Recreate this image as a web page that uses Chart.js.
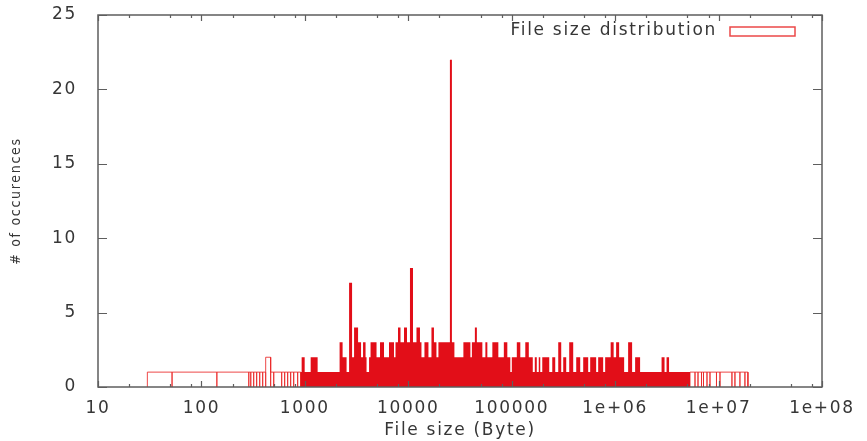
<!DOCTYPE html>
<html><head><meta charset="utf-8">
<script src="https://cdn.jsdelivr.net/npm/chart.js@4.4.1/dist/chart.umd.min.js"></script>
<style>html,body{margin:0;padding:0;background:#fff;}#wrap{width:867px;height:441px;}</style>
</head><body><div id="wrap"><canvas id="c" width="867" height="441"></canvas></div>
<script>
// ---- data (file size in bytes; each bin spans binEdges[i]..binEdges[i+1]) ----
const seriesLabel = 'File size distribution';
const binEdges = [
  30, 52, 141, 287, 300, 320, 342, 366, 391, 418, 467, 500, 597, 638, 682, 729, 780, 852, 911,
  931, 996, 1138, 1329, 2167, 2317, 2532, 2677, 2861, 2991, 3270, 3494, 3653, 3863, 3950, 4176, 4317,
  4932, 5331, 5826, 6513, 7278, 7523, 7954, 8410, 9090, 9716, 10380, 11100, 12000, 12970, 13410,
  14330, 15670, 16750, 17710, 18720, 19560, 25260, 26410, 27920, 34100, 39850, 41200, 44040, 46040,
  52020, 55630, 58140, 64980, 74250, 83900, 90690, 96940, 100200, 112000, 121100, 135300, 146300,
  159800, 167100, 174700, 182600, 188800, 197400, 230600, 246600, 263500, 281700, 301100, 314800,
  336500, 359700, 393200, 420400, 459500, 491100, 548900, 573800, 655500, 685300, 765900, 800700,
  905000, 967200, 1022000, 1093000, 1222000, 1335000, 1459000, 1560000, 1743000, 2811000, 3004000,
  3141000, 3321000, 5296000,
  5918000, 6327000, 6838000, 7149000, 7727000, 8260000, 9543000, 10320000, 13470000, 14400000,
  16090000, 17980000, 19220000
];
const counts = [
  1, 1, 1, 1, 1, 1, 1, 1, 1, 2, 1, 1, 1, 1, 1, 1, 1, 1,
  1, 2, 1, 2, 1, 3, 2, 1, 7, 2, 4, 3, 2, 3, 2, 1, 2, 3, 2, 3, 2, 3, 2, 3, 4, 3, 4, 3, 8, 3, 4, 3,
  2, 3, 2, 4, 3, 2, 3, 22, 3, 2, 3, 2, 3, 4, 3, 2, 3, 2, 3, 2, 3, 2, 1, 2, 3, 2, 3, 2, 1, 2, 1, 2,
  1, 2, 1, 2, 1, 3, 1, 2, 1, 3, 1, 2, 1, 2, 1, 2, 1, 2, 1, 2, 3, 2, 3, 2, 1, 3, 1, 2, 1, 2, 1, 2, 1,
  1, 1, 1, 1, 1, 1, 1, 1, 1, 1, 1, 1, 1
];
const denseFrom = 911, denseTo = 5296000;   // range where boxes are packed solid
const xTickValues = [10, 100, 1000, 10000, 100000, 1e6, 1e7, 1e8];
const xTickLabels = ['10', '100', '1000', '10000', '100000', '1e+06', '1e+07', '1e+08'];
const xMinorSteps = [2, 5, 8];
const yTickValues = [0, 5, 10, 15, 20, 25];

// ---- build marks from the bins ----
const isDense = (lo, hi) => lo >= denseFrom && hi <= denseTo;
function outlineBoxes(keep) {            // open boxes, each drawn down to 0
  const pts = []; let last = null;
  for (let i = 0; i < counts.length; i++) {
    const lo = binEdges[i], hi = binEdges[i + 1], c = counts[i];
    if (!keep(lo, hi) || c <= 0) continue;
    if (last !== null && last !== lo) pts.push({x: last, y: null});
    pts.push({x: lo, y: 0}, {x: lo, y: c}, {x: hi, y: c}, {x: hi, y: 0});
    last = hi;
  }
  return pts;
}
function steppedBins(keep) {             // solid region as a stepped profile
  const pts = []; let lastHi = null, lastC = 0;
  for (let i = 0; i < counts.length; i++) {
    const lo = binEdges[i], hi = binEdges[i + 1];
    if (!keep(lo, hi)) continue;
    pts.push({x: lo, y: counts[i]}); lastHi = hi; lastC = counts[i];
  }
  if (lastHi !== null) pts.push({x: lastHi, y: lastC});
  return pts;
}

const xAllTicks = [];
xTickValues.forEach((v, i) => {
  xAllTicks.push(v);
  if (i < xTickValues.length - 1) xMinorSteps.forEach(m => xAllTicks.push(v * m));
});
const isMajor = v => xTickValues.some(t => Math.abs(v - t) / t < 1e-9);
const labelFor = v => { const i = xTickValues.findIndex(t => Math.abs(v - t) / t < 1e-9); return i >= 0 ? xTickLabels[i] : ''; };

const FONT = 'DejaVu Sans';
const AXIS = '#5e5e5e';
const TEXT = '#363636';
const SPACING = '1.7px';

const spacingPlugin = {
  id: 'spacing',
  beforeLayout(chart) { chart.ctx.letterSpacing = SPACING; },
  beforeDraw(chart) { chart.ctx.letterSpacing = SPACING; }
};

const framePlugin = {
  id: 'frame',
  afterDatasetsDraw(chart) {
    const {ctx, chartArea: a, scales: {x, y}} = chart;
    ctx.save();
    ctx.strokeStyle = AXIS; ctx.lineWidth = 1.5;
    ctx.strokeRect(a.left, a.top, a.right - a.left, a.bottom - a.top);
    ctx.lineWidth = 1.2;
    ctx.beginPath();
    xAllTicks.forEach(v => {
      const px = Math.round(x.getPixelForValue(v)) + 0.5;
      const len = isMajor(v) ? 6 : 3;
      ctx.moveTo(px, a.bottom); ctx.lineTo(px, a.bottom - len);
      ctx.moveTo(px, a.top); ctx.lineTo(px, a.top + len);
    });
    yTickValues.forEach(v => {
      const py = Math.round(y.getPixelForValue(v)) + 0.5;
      ctx.moveTo(a.left, py); ctx.lineTo(a.left + 9, py);
      ctx.moveTo(a.right, py); ctx.lineTo(a.right - 9, py);
    });
    ctx.stroke();
    // key (gnuplot style: text, then sample box)
    ctx.font = '17px "' + FONT + '"';
    ctx.fillStyle = TEXT; ctx.textAlign = 'right'; ctx.textBaseline = 'middle';
    ctx.fillText(chart.data.datasets[0].label, a.right - 105, a.top + 16);
    ctx.strokeStyle = 'rgba(232,40,40,0.85)'; ctx.lineWidth = 1.5;
    ctx.strokeRect(a.right - 92, a.top + 12, 65, 9);
    ctx.restore();
  }
};

new Chart(document.getElementById('c'), {
  type: 'line',
  data: {
    datasets: [
      {
        label: seriesLabel,
        data: steppedBins(isDense),
        stepped: true,
        borderColor: 'transparent', backgroundColor: 'rgb(226,14,24)',
        borderWidth: 1, fill: 'origin', pointRadius: 0, tension: 0
      },
      {
        label: seriesLabel,
        data: outlineBoxes((lo, hi) => !isDense(lo, hi)),
        borderColor: 'rgba(234,40,40,0.85)', backgroundColor: 'transparent',
        borderWidth: 1, fill: false, pointRadius: 0, tension: 0, spanGaps: false
      }
    ]
  },
  options: {
    responsive: false, animation: false, devicePixelRatio: 1,
    layout: {padding: {top: 15, right: 45, bottom: 0, left: 0}},
    plugins: {legend: {display: false}, tooltip: {enabled: false}},
    scales: {
      x: {
        type: 'logarithmic', min: 10, max: 1e8,
        afterBuildTicks: s => { s.ticks = xAllTicks.map(v => ({value: v})); },
        afterFit: s => { s.height = 54; s.paddingLeft = 0; s.paddingRight = 0; },
        grid: {display: false}, border: {display: false},
        ticks: {autoSkip: false, maxRotation: 0, minRotation: 0, padding: 3, color: TEXT,
          font: {family: FONT, size: 17}, callback: v => labelFor(v)},
        title: {display: true, text: 'File size (Byte)', color: TEXT,
          font: {family: FONT, size: 17}, padding: {top: 0, bottom: 0}}
      },
      y: {
        min: 0, max: 25,
        afterBuildTicks: s => { s.ticks = yTickValues.map(v => ({value: v})); },
        afterFit: s => { s.width = 98; s.paddingTop = 0; s.paddingBottom = 0; },
        grid: {display: false}, border: {display: false},
        ticks: {padding: 13, color: TEXT, font: {family: FONT, size: 17}},
        title: {display: true, text: '# of occurences', color: TEXT,
          font: {family: 'DejaVu Sans Condensed', size: 14}, padding: {top: 8, bottom: 0}}
      }
    }
  },
  plugins: [spacingPlugin, framePlugin]
});
</script></body></html>
